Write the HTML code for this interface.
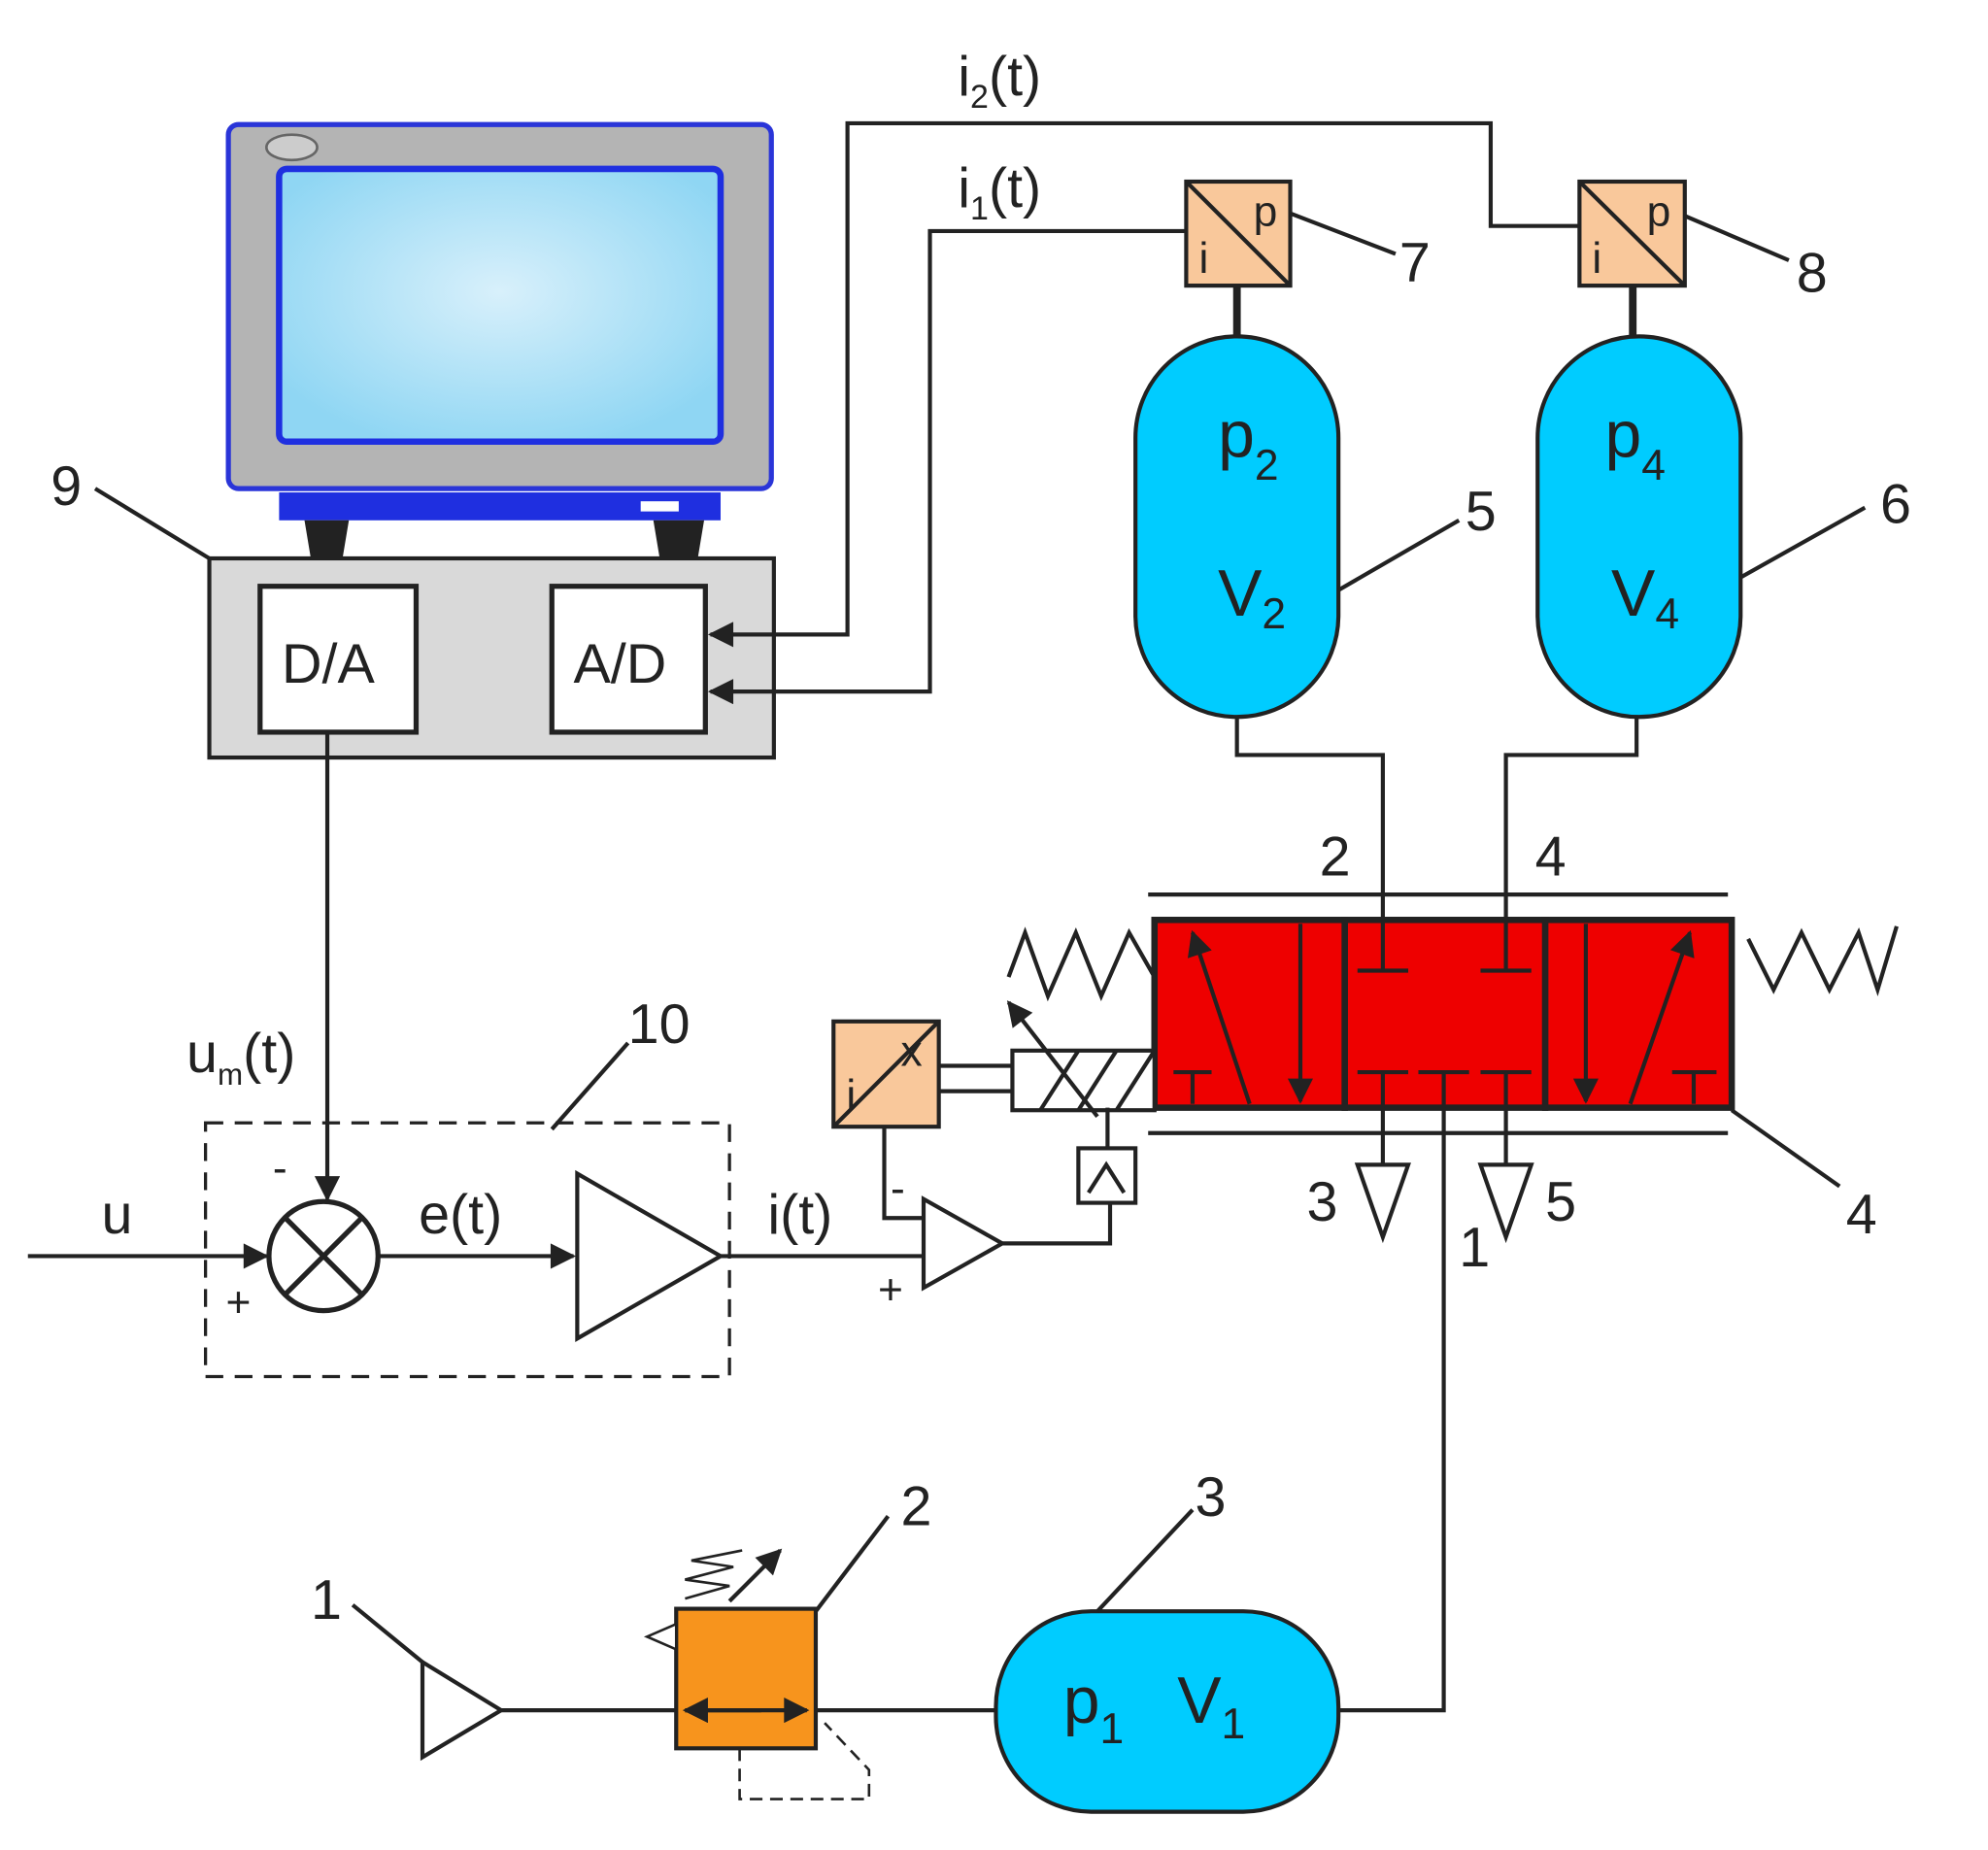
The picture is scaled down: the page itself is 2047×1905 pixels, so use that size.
<!DOCTYPE html>
<html><head><meta charset="utf-8"><style>html,body{margin:0;padding:0;background:#fff}svg{display:block}text{font-family:"Liberation Sans",sans-serif;fill:#222}</style></head><body>
<svg width="2047" height="1905" viewBox="0 0 1567 1458" xmlns="http://www.w3.org/2000/svg">
<defs>
<radialGradient id="sc" cx="0.5" cy="0.45" r="0.6"><stop offset="0" stop-color="#d8f0fb"/><stop offset="1" stop-color="#8fd6f3"/></radialGradient>
<marker id="ar" viewBox="0 0 10 10" refX="9" refY="5" markerWidth="24" markerHeight="20" orient="auto" markerUnits="userSpaceOnUse"><path d="M0,0L10,5L0,10z" fill="#222"/></marker>
</defs>
<g stroke="#222" stroke-width="3.2" fill="none">
<!-- monitor -->
<rect x="180" y="98" width="428" height="287" rx="8" fill="#b4b4b4" stroke="#2a35d8" stroke-width="4"/>
<rect x="220" y="133" width="348" height="215" rx="6" fill="url(#sc)" stroke="#1f2fe0" stroke-width="5"/>
<ellipse cx="230" cy="116" rx="20" ry="10" fill="#ccc" stroke="#666" stroke-width="2"/>
<rect x="220" y="388" width="348" height="22" fill="#1f2fe0" stroke="none"/>
<rect x="505" y="395" width="30" height="8" fill="#fff" stroke="none"/>
<path d="M240 410 h35 l-5 30 h-25z M515 410 h40 l-5 30 h-30z" fill="#222" stroke="none"/>
<!-- box 9 -->
<rect x="165" y="440" width="445" height="157" fill="#d9d9d9"/>
<rect x="205" y="462" width="123" height="115" fill="#fff" stroke-width="4"/>
<rect x="435" y="462" width="121" height="115" fill="#fff" stroke-width="4"/>
<line x1="75" y1="385" x2="165" y2="440"/>
<!-- signal lines -->
<polyline points="1245,178 1175,178 1175,97 668,97 668,500 560,500" marker-end="url(#ar)"/>
<polyline points="935,182 733,182 733,545 560,545" marker-end="url(#ar)"/>
<!-- sensors -->
<rect x="935" y="143" width="82" height="82" fill="#f9c89b"/><line x1="935" y1="143" x2="1017" y2="225"/>
<rect x="1245" y="143" width="83" height="82" fill="#f9c89b"/><line x1="1245" y1="143" x2="1328" y2="225"/>
<line x1="1017" y1="168" x2="1100" y2="200"/><line x1="1328" y1="170" x2="1410" y2="205"/>
<line x1="975" y1="225" x2="975" y2="265" stroke-width="6"/><line x1="1287" y1="225" x2="1287" y2="265" stroke-width="6"/>
<!-- tanks -->
<rect x="895" y="265" width="160" height="300" rx="80" fill="#00ccff"/>
<rect x="1212" y="265" width="160" height="300" rx="80" fill="#00ccff"/>
<line x1="1055" y1="465" x2="1150" y2="410"/><line x1="1372" y1="455" x2="1470" y2="400"/>
<polyline points="975,565 975,595 1090,595 1090,725"/>
<polyline points="1290,565 1290,595 1187,595 1187,725"/>
<!-- valve -->
<line x1="905" y1="705" x2="1362" y2="705"/><line x1="905" y1="893" x2="1362" y2="893"/>
<rect x="910" y="725" width="150" height="148" fill="#ee0000" stroke-width="5"/>
<rect x="1060" y="725" width="158" height="148" fill="#ee0000" stroke-width="5"/>
<rect x="1218" y="725" width="147" height="148" fill="#ee0000" stroke-width="5"/>
<line x1="985" y1="870" x2="940" y2="735" marker-end="url(#ar)"/>
<line x1="1025" y1="728" x2="1025" y2="868" marker-end="url(#ar)"/>
<line x1="1250" y1="728" x2="1250" y2="868" marker-end="url(#ar)"/>
<line x1="1285" y1="870" x2="1332" y2="735" marker-end="url(#ar)"/>
<path d="M925 845 h30 M940 845 v25 M1318 845 h35 M1335 845 v25"/>
<path d="M1090 725 v40 M1070 765 h40 M1187 725 v40 M1167 765 h40"/>
<path d="M1070 845 h40 M1090 845 v28 M1118 845 h40 M1138 845 v28 M1167 845 h40 M1187 845 v28"/>
<polyline points="910,770 890,735 868,785 848,735 826,785 808,735 795,770"/>
<polyline points="1378,740 1398,780 1420,735 1442,780 1465,735 1480,780 1495,730"/>
<line x1="1365" y1="875" x2="1450" y2="935"/>
<!-- solenoid -->
<rect x="798" y="828" width="112" height="47" fill="#fff"/>
<path d="M820 875 l30 -47 M850 875 l30 -47 M880 875 l30 -47"/>
<line x1="740" y1="840" x2="798" y2="840"/><line x1="740" y1="860" x2="798" y2="860"/>
<rect x="657" y="805" width="83" height="83" fill="#f9c89b"/><line x1="657" y1="888" x2="740" y2="805"/>
<line x1="865" y1="880" x2="795" y2="790" marker-end="url(#ar)"/>
<polyline points="697,888 697,960 728,960"/>
<polygon points="728,945 728,1015 790,980" fill="#fff"/>
<polyline points="790,980 875,980 875,948"/>
<rect x="850" y="905" width="45" height="43" fill="#fff"/><path d="M858 940 l14 -22 l14 22"/>
<line x1="873" y1="873" x2="873" y2="905"/>
<!-- exhausts -->
<line x1="1090" y1="873" x2="1090" y2="918"/><polygon points="1070,918 1110,918 1090,975"/>
<line x1="1187" y1="873" x2="1187" y2="918"/><polygon points="1167,918 1207,918 1187,975"/>
<polyline points="1138,873 1138,1348 1055,1348"/>
<!-- controller -->
<rect x="162" y="885" width="413" height="200" stroke-dasharray="14,9" stroke-width="2.5"/>
<line x1="495" y1="822" x2="435" y2="890"/>
<circle cx="255" cy="990" r="43" fill="#fff" stroke-width="4"/>
<path d="M225 960 l60 60 M285 960 l-60 60" stroke-width="4"/>
<line x1="22" y1="990" x2="210" y2="990" marker-end="url(#ar)"/>
<line x1="258" y1="577" x2="258" y2="945" marker-end="url(#ar)"/>
<line x1="298" y1="990" x2="452" y2="990" marker-end="url(#ar)"/>
<polygon points="455,925 455,1055 568,990" fill="#fff"/>
<line x1="568" y1="990" x2="728" y2="990"/>
<!-- bottom -->
<polygon points="333,1310 333,1385 395,1348" fill="#fff"/>
<line x1="395" y1="1348" x2="533" y2="1348"/>
<rect x="533" y="1268" width="110" height="110" fill="#f7941d"/>
<line x1="540" y1="1348" x2="636" y2="1348" marker-end="url(#ar)"/><line x1="600" y1="1348" x2="540" y2="1348" marker-end="url(#ar)"/>
<line x1="643" y1="1348" x2="785" y2="1348"/>
<rect x="785" y="1270" width="270" height="158" rx="75" fill="#00ccff"/>
<polyline points="583,1378 583,1418 685,1418 685,1395 650,1358" stroke-dasharray="10,6" stroke-width="2"/>
<polygon points="533,1280 510,1290 533,1300" fill="#fff" stroke-width="2"/>
<polyline points="540,1260 575,1250 540,1245 578,1235 545,1230 585,1222" stroke-width="2"/>
<line x1="575" y1="1262" x2="615" y2="1222" marker-end="url(#ar)"/>
<line x1="940" y1="1190" x2="865" y2="1270"/><line x1="700" y1="1195" x2="643" y2="1270"/><line x1="278" y1="1265" x2="333" y2="1310"/>
</g>
<g font-size="44">
<text x="222" y="538">D/A</text><text x="452" y="538">A/D</text>
<text x="40" y="398">9</text>
<text x="755" y="75">i<tspan font-size="26" dy="10">2</tspan><tspan dy="-10">(t)</tspan></text>
<text x="755" y="163">i<tspan font-size="26" dy="10">1</tspan><tspan dy="-10">(t)</tspan></text>
<text x="1103" y="222">7</text><text x="1416" y="230">8</text>
<text x="1155" y="418">5</text><text x="1482" y="412">6</text>
<text x="1040" y="690">2</text><text x="1210" y="690">4</text>
<text x="1030" y="962">3</text><text x="1218" y="962">5</text><text x="1150" y="998">1</text>
<text x="1455" y="972">4</text>
<text x="495" y="822">10</text>
<text x="80" y="972">u</text>
<text x="330" y="972">e(t)</text><text x="605" y="972">i(t)</text>
<text x="147" y="845">u<tspan font-size="24" dy="10">m</tspan><tspan dy="-10">(t)</tspan></text>
<text x="710" y="1202">2</text><text x="942" y="1195">3</text><text x="245" y="1276">1</text>
</g>
<g font-size="34"><text x="178" y="1038">+</text><text x="215" y="932">-</text><text x="702" y="948">-</text><text x="692" y="1028">+</text>
<text x="945" y="215">i</text><text x="988" y="178">p</text><text x="1255" y="215">i</text><text x="1298" y="178">p</text>
<text x="667" y="875">i</text><text x="710" y="840">x</text></g>
<g font-size="52">
<text x="960" y="360">p<tspan font-size="34" dy="18">2</tspan></text>
<text x="960" y="485">V<tspan font-size="34" dy="10">2</tspan></text>
<text x="1265" y="360">p<tspan font-size="34" dy="18">4</tspan></text>
<text x="1270" y="485">V<tspan font-size="34" dy="10">4</tspan></text>
<text x="838" y="1358">p<tspan font-size="34" dy="16">1</tspan></text>
<text x="928" y="1358">V<tspan font-size="34" dy="12">1</tspan></text>
</g>
</svg>
</body></html>
